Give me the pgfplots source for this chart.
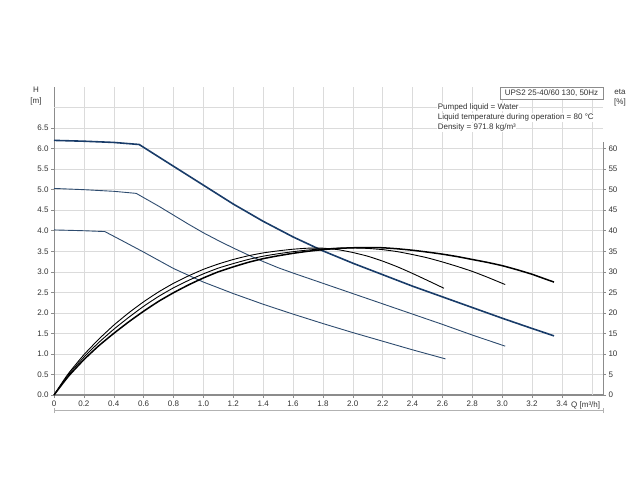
\documentclass[border=0pt]{standalone}
\usepackage{pgfplots}
\pgfplotsset{compat=1.18}
\usepackage{fontspec}
\setmainfont{Liberation Sans}
\definecolor{hblue}{RGB}{25,60,105}
\definecolor{hblue2}{RGB}{45,75,110}
\definecolor{txt}{RGB}{50,50,50}
\definecolor{axgray}{RGB}{140,140,140}
\begin{document}
\begin{tikzpicture}[x=1pt,y=1pt,font=\fontsize{8}{9.5}\selectfont]
\path (0,0) rectangle (640,480);
\begin{axis}[at={(54pt,85pt)}, anchor=south west, scale only axis,
  width=549pt, height=308pt,
  xmin=0, xmax=3.675, ymin=0, ymax=7.5,
  axis x line=bottom, axis y line=left,
  x axis line style={-, draw=axgray, line width=1.4pt},
  y axis line style={-, draw=axgray, line width=0.6pt},
  tick align=outside, major tick length=3pt,
  tick style={axgray, line width=0.5pt},
  xtick={0,0.2,0.4,0.6,0.8,1.0,1.2,1.4,1.6,1.8,2.0,2.2,2.4,2.6,2.8,3.0,3.2,3.4},
  xticklabels={0,0.2,0.4,0.6,0.8,1.0,1.2,1.4,1.6,1.8,2.0,2.2,2.4,2.6,2.8,3.0,3.2,3.4},
  ytick={0,0.5,1,1.5,2,2.5,3,3.5,4,4.5,5,5.5,6,6.5},
  yticklabels={0.0,0.5,1.0,1.5,2.0,2.5,3.0,3.5,4.0,4.5,5.0,5.5,6.0,6.5},
  extra x ticks={3.6}, extra x tick labels={},
  extra y ticks={7}, extra y tick labels={},
  extra tick style={major tick length=0pt},
  grid=major, major grid style={draw=black!14, line width=0.5pt},
  ticklabel style={font=\fontsize{8}{9.5}\selectfont, text=txt},
  xticklabel style={yshift=1pt},
  yticklabel style={xshift=1pt},
  clip=false]
\addplot[hblue, line width=1.6pt] coordinates {(0,6.20) (0.2,6.18) (0.4,6.15) (0.57,6.10) (0.7,5.80) (0.8,5.57) (0.9,5.34) (1.0,5.11) (1.1,4.88) (1.2,4.65) (1.3,4.44) (1.4,4.23) (1.5,4.04) (1.6,3.85) (1.7,3.68) (1.8,3.51) (1.9,3.36) (2.0,3.21) (2.2,2.93) (2.4,2.65) (2.6,2.39) (2.8,2.13) (3.0,1.87) (3.2,1.62) (3.347,1.44)};
\addplot[hblue2, line width=0.9pt] coordinates {(0,5.03) (0.2,5.00) (0.4,4.96) (0.55,4.91) (0.7,4.60) (0.8,4.38) (0.9,4.16) (1.0,3.95) (1.1,3.76) (1.2,3.58) (1.3,3.41) (1.4,3.25) (1.5,3.10) (1.6,2.97) (1.8,2.72) (2.0,2.47) (2.2,2.22) (2.4,1.97) (2.6,1.72) (2.8,1.46) (3.02,1.19)};
\addplot[hblue2, line width=0.9pt] coordinates {(0,4.02) (0.2,4.00) (0.34,3.98) (0.45,3.77) (0.6,3.48) (0.8,3.08) (1.0,2.75) (1.2,2.47) (1.4,2.21) (1.6,1.97) (1.8,1.74) (2.0,1.52) (2.2,1.31) (2.4,1.10) (2.62,0.88)};
\end{axis}
\begin{axis}[at={(54pt,85pt)}, anchor=south west, scale only axis,
  width=549pt, height=308pt,
  xmin=0, xmax=3.675, ymin=0, ymax=75,
  axis x line=none, axis y line*=right,
  y axis line style={draw=none},
  tick align=outside, major tick length=3pt,
  tick style={axgray, line width=0.5pt},
  ytick={0,5,10,15,20,25,30,35,40,45,50,55,60},
  yticklabels={0,5,10,15,20,25,30,35,40,45,50,55,60},
  ticklabel style={font=\fontsize{8}{9.5}\selectfont, text=txt},
  yticklabel style={xshift=-1pt},
  clip=false]
\draw[axgray, line width=0.6pt] (axis cs:3.675,0) -- (axis cs:3.675,61.5);
\addplot[black, line width=0.9pt, smooth, tension=0.3] coordinates {(0,0) (0.05,2.8) (0.1,5.4) (0.2,9.8) (0.3,13.6) (0.4,17.0) (0.5,20.0) (0.6,22.7) (0.7,25.1) (0.8,27.2) (0.9,29.0) (1.0,30.6) (1.1,31.9) (1.2,33.0) (1.3,33.9) (1.4,34.6) (1.5,35.1) (1.6,35.5) (1.7,35.75) (1.8,35.75) (1.9,35.4) (2.0,34.7) (2.1,33.8) (2.2,32.6) (2.3,31.2) (2.4,29.6) (2.5,27.9) (2.61,26.0)};
\addplot[black, line width=0.9pt, smooth, tension=0.3] coordinates {(0,0) (0.05,2.6) (0.1,5.1) (0.2,9.2) (0.3,12.8) (0.4,16.0) (0.5,18.9) (0.6,21.6) (0.7,24.0) (0.8,26.1) (0.9,27.9) (1.0,29.5) (1.1,30.9) (1.2,32.0) (1.3,33.0) (1.4,33.8) (1.5,34.4) (1.6,34.9) (1.7,35.3) (1.8,35.6) (1.9,35.75) (2.0,35.8) (2.1,35.7) (2.2,35.4) (2.3,34.9) (2.4,34.2) (2.5,33.4) (2.6,32.4) (2.7,31.3) (2.8,30.1) (2.9,28.7) (3.02,26.9)};
\addplot[black, line width=1.5pt, smooth, tension=0.3] coordinates {(0,0) (0.05,2.4) (0.1,4.7) (0.2,8.6) (0.3,12.0) (0.4,15.0) (0.5,17.8) (0.6,20.4) (0.7,22.8) (0.8,24.9) (0.9,26.8) (1.0,28.5) (1.1,30.0) (1.2,31.2) (1.3,32.3) (1.4,33.2) (1.5,33.9) (1.6,34.5) (1.7,35.0) (1.8,35.4) (1.9,35.7) (2.0,35.85) (2.1,35.9) (2.2,35.85) (2.3,35.6) (2.4,35.25) (2.5,34.8) (2.6,34.3) (2.7,33.7) (2.8,33.0) (2.9,32.3) (3.0,31.5) (3.1,30.5) (3.2,29.4) (3.3,28.1) (3.347,27.5)};
\end{axis}
% labels
\node[text=txt, align=center, inner sep=0pt] at (36,384) {H\\[1pt][m]};
\node[text=txt, align=center, inner sep=0pt] at (620,382.5) {eta\\[1pt][\%]};
\node[text=txt, anchor=west, inner sep=0pt] at (571,75) {Q [m³/h]};
\draw[axgray, line width=0.5pt, fill=white] (500,380.5) rectangle (603,393);
\node[text=txt, inner sep=0pt] at (551.5,386.8) {UPS2 25-40/60 130, 50Hz};
\node[text=txt, anchor=west, fill=white, inner sep=0.6pt] at (437,373) {Pumped liquid = Water};
\node[text=txt, anchor=west, fill=white, inner sep=0.6pt] at (437,362.5) {Liquid temperature during operation = 80 °C};
\node[text=txt, anchor=west, fill=white, inner sep=0.6pt] at (437,352.5) {Density = 971.8 kg/m³};
% start of the next chart, cut off
\draw[black!30, line width=0.6pt] (54,70) -- (603,70);
\draw[black!30, line width=0.6pt] (54,67) -- (54,72);
\draw[black!30, line width=0.6pt] (603,67) -- (603,72);
\end{tikzpicture}
\end{document}
